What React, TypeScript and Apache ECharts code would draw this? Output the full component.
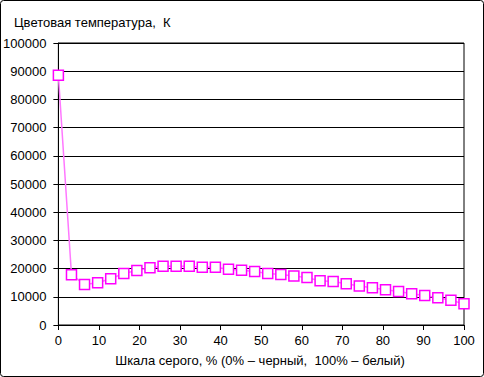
import React, { useEffect, useRef } from "react";
import * as echarts from "echarts";

const title = "Цветовая температура,  К";
const xTitle = "Шкала серого, % (0% – черный,  100% – белый)";
const xTicks = [0, 10, 20, 30, 40, 50, 60, 70, 80, 90, 100];
const yTicks = [0, 10000, 20000, 30000, 40000, 50000, 60000, 70000, 80000, 90000, 100000];
const grayPercent = [
  0, 3.23, 6.45, 9.68, 12.9, 16.13, 19.35, 22.58, 25.81, 29.03, 32.26, 35.48, 38.71, 41.94, 45.16, 48.39,
  51.61, 54.84, 58.06, 61.29, 64.52, 67.74, 70.97, 74.19, 77.42, 80.65, 83.87, 87.1, 90.32, 93.55, 96.77, 100,
];
const colorTemp = [
  88600, 17800, 14400, 15000, 16400, 18300, 19300, 20300, 20800, 20800, 20800, 20450, 20450, 19750, 19400, 19000,
  18300, 17950, 17400, 16800, 15700, 15400, 14650, 13800, 13250, 12500, 11900, 11100, 10500, 9700, 8800, 7500,
];

export default function App() {
  const ref = useRef<HTMLDivElement>(null);
  useEffect(() => {
    document.body.style.margin = "0";
    const chart = echarts.init(ref.current!, null, { renderer: "svg" });
    const font = "'Liberation Sans', Arial, sans-serif";
    chart.setOption({
      animation: false,
      backgroundColor: "#ffffff",
      textStyle: { fontFamily: font },
      graphic: [
        {
          type: "rect",
          shape: { x: 0.5, y: 0.5, width: 483, height: 376, r: 3 },
          style: { fill: "none", stroke: "#000", lineWidth: 1 },
        },
        {
          type: "text",
          x: 14,
          y: 22,
          style: { text: title, font: `13px ${font}`, fill: "#000", textVerticalAlign: "middle" },
        },
        {
          type: "text",
          x: 260,
          y: 360,
          style: { text: xTitle, font: `13px ${font}`, fill: "#000", textAlign: "center", textVerticalAlign: "middle" },
        },
      ],
      grid: {
        left: 57,
        right: 20,
        top: 43,
        bottom: 52,
        show: true,
        borderColor: "#000",
        borderWidth: 1,
        backgroundColor: "transparent",
      },
      xAxis: {
        type: "value",
        min: xTicks[0],
        max: xTicks[xTicks.length - 1],
        interval: 10,
        axisLine: { lineStyle: { color: "#000", width: 1 } },
        axisTick: { show: true, length: 5, lineStyle: { color: "#000" } },
        axisLabel: { color: "#000", fontSize: 13, margin: 9, fontFamily: font },
        splitLine: { show: false },
      },
      yAxis: {
        type: "value",
        min: yTicks[0],
        max: yTicks[yTicks.length - 1],
        interval: 10000,
        axisLine: { show: true, lineStyle: { color: "#000", width: 1 } },
        axisTick: { show: true, length: 5, lineStyle: { color: "#000" } },
        axisLabel: {
          color: "#000",
          fontSize: 13,
          margin: 12,
          fontFamily: font,
          formatter: (v: number) => String(v),
        },
        splitLine: { show: true, lineStyle: { color: "#000", width: 1 } },
      },
      series: [
        {
          type: "line",
          data: grayPercent.map((x, i) => [x, colorTemp[i]]),
          symbol: "rect",
          symbolSize: 10,
          showAllSymbol: true,
          lineStyle: { color: "#ff77ff", width: 1.5 },
          itemStyle: { color: "#ffffff", borderColor: "#ff00ff", borderWidth: 1.5 },
        },
      ],
    });
    return () => chart.dispose();
  }, []);
  return <div ref={ref} style={{ width: 484, height: 377 }} />;
}
